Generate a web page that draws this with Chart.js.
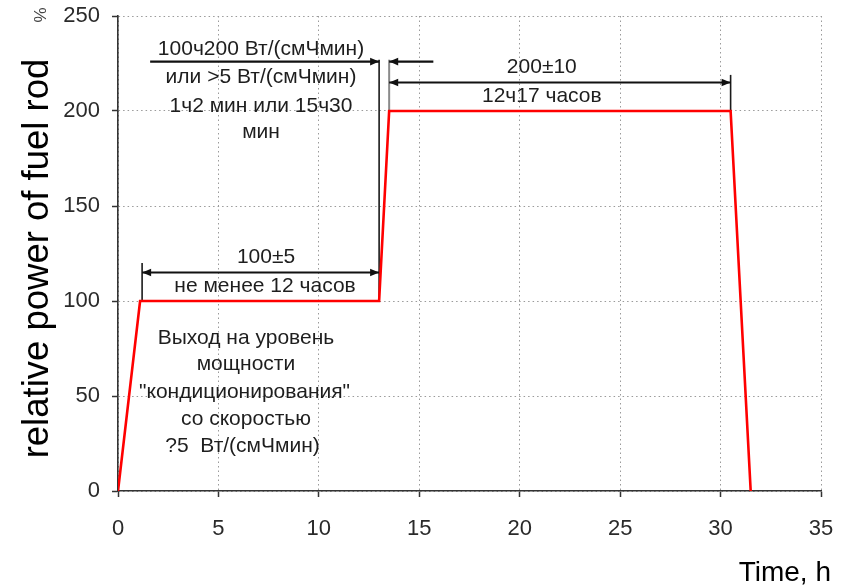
<!DOCTYPE html>
<html>
<head>
<meta charset="utf-8">
<script src="https://cdn.jsdelivr.net/npm/chart.js@4"></script>
<style>
  html, body { margin: 0; padding: 0; background: #fff; }
  #wrap { width: 846px; height: 587px; position: relative; }
</style>
</head>
<body>
<div id="wrap"><canvas id="c" width="846" height="587"></canvas></div>
<script>
// Power history of the fuel rod: time (h) and relative power (%)
const timeH = [0, 1.1, 13, 13.5, 30.5, 31.5];
const powerPct = [0, 100, 100, 200, 200, 0];

const xTicks = [0, 5, 10, 15, 20, 25, 30, 35];
const yTicks = [0, 50, 100, 150, 200, 250];

// Dimension arrows (data units): from x1 to x2 at level y
const arrowX1 = [1.6, 15.7, 13.5, 1.2];
const arrowX2 = [13, 13.5, 30.5, 13];
const arrowY = [226, 226, 215, 115];
const arrowBoth = [false, false, true, true];

// Extension lines (data units)
const extX = [13, 13.5, 30.5, 1.2];
const extY1 = [100, 200, 200, 100];
const extY2 = [227, 227, 219, 120];
const extGray = [false, true, false, false];

// Annotation labels
const noteText = [
  '100ч200 Вт/(смЧмин)',
  'или >5 Вт/(смЧмин)',
  '1ч2 мин или 15ч30',
  'мин',
  '200±10',
  '12ч17 часов',
  '100±5',
  'не менее 12 часов',
  'Выход на уровень',
  'мощности',
  '"кондиционирования"',
  'со скоростью',
  '?5  Вт/(смЧмин)'
];
const noteX = [7.12, 7.12, 7.12, 7.12, 21.1, 21.1, 7.37, 7.32, 6.37, 6.37, 6.3, 6.37, 6.2];
const noteY = [229.5, 214.7, 199.5, 185.8, 220, 204.7, 120, 104.7, 77.4, 63.7, 48.9, 34.7, 20.5];

const FONT = '"Liberation Sans", Arial, sans-serif';

function arrowHead(ctx, x, y, dir) {
  const L = 9, W = 3.8;
  ctx.beginPath();
  ctx.moveTo(x, y);
  ctx.lineTo(x - dir * L, y - W);
  ctx.lineTo(x - dir * L, y + W);
  ctx.closePath();
  ctx.fill();
}

const annotations = {
  id: 'annotations',
  beforeDatasetsDraw(chart) {
    const { ctx, scales: { x, y } } = chart;
    ctx.save();
    // extension lines
    for (let i = 0; i < extX.length; i++) {
      const px = x.getPixelForValue(extX[i]);
      ctx.strokeStyle = extGray[i] ? '#8a8a8a' : '#1a1a1a';
      ctx.lineWidth = extGray[i] ? 2 : 1.6;
      ctx.beginPath();
      ctx.moveTo(px, y.getPixelForValue(extY1[i]));
      ctx.lineTo(px, y.getPixelForValue(extY2[i]));
      ctx.stroke();
    }
    // arrows
    ctx.strokeStyle = '#111';
    ctx.fillStyle = '#111';
    ctx.lineWidth = 2.2;
    for (let i = 0; i < arrowX1.length; i++) {
      const a = x.getPixelForValue(arrowX1[i]);
      const b = x.getPixelForValue(arrowX2[i]);
      const py = y.getPixelForValue(arrowY[i]);
      ctx.beginPath();
      ctx.moveTo(a, py);
      ctx.lineTo(b, py);
      ctx.stroke();
      const dir = b > a ? 1 : -1;
      arrowHead(ctx, b, py, dir);
      if (arrowBoth[i]) arrowHead(ctx, a, py, -dir);
    }
    // labels
    ctx.fillStyle = '#1e1e1e';
    ctx.font = '21px ' + FONT;
    ctx.textAlign = 'center';
    ctx.textBaseline = 'alphabetic';
    for (let i = 0; i < noteText.length; i++) {
      ctx.fillText(noteText[i], x.getPixelForValue(noteX[i]), y.getPixelForValue(noteY[i]));
    }
    ctx.restore();
  },
  afterDraw(chart) {
    const { ctx } = chart;
    ctx.save();
    // y-axis title
    ctx.translate(48, 258.5);
    ctx.rotate(-Math.PI / 2);
    ctx.fillStyle = '#000';
    ctx.font = '36.5px ' + FONT;
    ctx.textAlign = 'center';
    ctx.textBaseline = 'alphabetic';
    ctx.fillText('relative power of fuel rod', 0, 0);
    ctx.restore();

    ctx.save();
    ctx.translate(46, 15);
    ctx.rotate(-Math.PI / 2);
    ctx.fillStyle = '#444';
    ctx.font = '17px ' + FONT;
    ctx.textAlign = 'center';
    ctx.fillText('%', 0, 0);
    ctx.restore();

    ctx.save();
    ctx.fillStyle = '#000';
    ctx.font = '28px ' + FONT;
    ctx.textAlign = 'right';
    ctx.textBaseline = 'alphabetic';
    ctx.fillText('Time, h', 831, 581);
    ctx.restore();
  }
};

const axisCommon = {
  type: 'linear',
  grid: {
    color: '#9a9a9a',
    lineWidth: 1,
    drawTicks: true,
    tickLength: 6,
    tickColor: '#333',
    tickWidth: 1.5,
    tickBorderDash: []
  },
  border: { display: true, color: '#333', width: 1.6, dash: [1.5, 3] },
  ticks: { color: '#2a2a2a', font: { family: FONT, size: 22 } }
};

new Chart(document.getElementById('c'), {
  type: 'scatter',
  data: {
    datasets: [{
      data: timeH.map((t, i) => ({ x: t, y: powerPct[i] })),
      showLine: true,
      borderColor: '#ff0000',
      borderWidth: 2.6,
      pointRadius: 0,
      tension: 0,
      fill: false
    }]
  },
  options: {
    responsive: false,
    animation: false,
    events: [],
    layout: { padding: { left: 0, right: 25, top: 16, bottom: 0 } },
    plugins: { legend: { display: false }, tooltip: { enabled: false } },
    scales: {
      x: Object.assign({}, axisCommon, {
        min: 0, max: 35,
        afterBuildTicks(s) { s.ticks = xTicks.map(v => ({ value: v })); },
        afterFit(s) { s.height = 96; s.paddingLeft = 0; s.paddingRight = 0; },
        ticks: Object.assign({}, axisCommon.ticks, { padding: 19, maxRotation: 0 })
      }),
      y: Object.assign({}, axisCommon, {
        min: 0, max: 250,
        afterBuildTicks(s) { s.ticks = yTicks.map(v => ({ value: v })); },
        afterFit(s) { s.width = 118; s.paddingTop = 0; s.paddingBottom = 0; },
        ticks: Object.assign({}, axisCommon.ticks, { padding: 12 })
      })
    }
  },
  plugins: [annotations]
});
</script>
</body>
</html>
